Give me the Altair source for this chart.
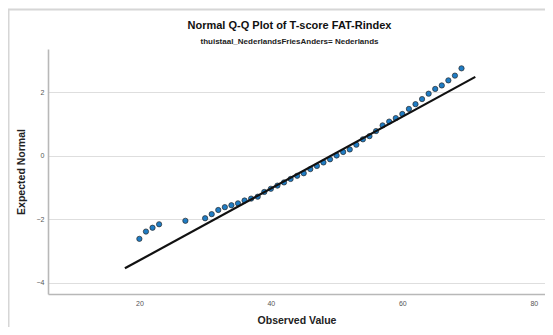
import altair as alt
import pandas as pd

observed = [20, 21, 22, 23, 27, 30, 31, 32, 33, 34, 35, 36, 37, 38, 39,
            40, 41, 42, 43, 44, 45, 46, 47, 48, 49, 50, 51, 52, 53, 54,
            55, 56, 57, 58, 59, 60, 61, 62, 63, 64, 65, 66, 67, 68, 69]
expected = [-2.62, -2.39, -2.27, -2.16, -2.05, -1.97, -1.84, -1.71, -1.62, -1.56,
            -1.50, -1.41, -1.35, -1.29, -1.14, -1.04, -0.94, -0.84, -0.73, -0.63,
            -0.55, -0.42, -0.32, -0.21, -0.11, 0.01, 0.12, 0.20, 0.35, 0.52,
            0.62, 0.78, 0.96, 1.08, 1.19, 1.32, 1.48, 1.63, 1.79, 1.96,
            2.11, 2.22, 2.38, 2.53, 2.76]

# Reference line end points
line_x = [17.8, 71.1]
line_y = [-3.55, 2.49]

x_ticks = [20, 40, 60, 80]
y_ticks = [-4, -2, 0, 2]

pts = pd.DataFrame({"Observed Value": observed, "Expected Normal": expected})
ln = pd.DataFrame({"Observed Value": line_x, "Expected Normal": line_y})

FONT = "Liberation Sans"

x_enc = alt.X("Observed Value:Q",
              scale=alt.Scale(domain=[6.1, 81.7], nice=False, zero=False),
              axis=alt.Axis(values=x_ticks, grid=False, ticks=False,
                            domainColor="#b8b8b8", domainWidth=1.6,
                            labelFont=FONT, labelFontSize=7, labelColor="#555555",
                            labelPadding=5, title="Observed Value",
                            titleFont=FONT, titleFontSize=10.5, titleFontWeight="bold",
                            titleColor="#222222", titlePadding=9))
y_enc = alt.Y("Expected Normal:Q",
              scale=alt.Scale(domain=[-4.36, 3.37], nice=False, zero=False),
              axis=alt.Axis(values=y_ticks, grid=True, gridColor="#dedede", gridWidth=1.2,
                            ticks=False, domainColor="#b8b8b8", domainWidth=1.6,
                            labelFont=FONT, labelFontSize=7, labelColor="#555555",
                            labelPadding=4, title="Expected Normal",
                            titleFont=FONT, titleFontSize=10.5, titleFontWeight="bold",
                            titleColor="#222222", titlePadding=10))

frame = alt.Chart(alt.Data(values=[{"a": 1}])).mark_rect(
    fillOpacity=0, stroke="#d6d6d6", strokeWidth=2
).encode(x=alt.value(-39.5), x2=alt.value(700), y=alt.value(-39.5), y2=alt.value(500))

points = alt.Chart(pts).mark_point(
    filled=True, fill="#1f7cc4", stroke="#2a2a2a", strokeWidth=0.7, opacity=1, size=28
).encode(x=x_enc, y=y_enc)

line = alt.Chart(ln).mark_line(color="#111111", strokeWidth=2.2).encode(x=x_enc, y=y_enc)

chart = alt.layer(frame, points, line).properties(
    width=497,
    height=245,
    autosize=alt.AutoSizeParams(type="none"),
    padding={"left": 40, "top": 41, "right": 0, "bottom": 33},
    title=alt.TitleParams(
        text="Normal Q-Q Plot of T-score FAT-Rindex",
        subtitle="thuistaal_NederlandsFriesAnders= Nederlands",
        font=FONT, fontSize=11, fontWeight="bold", color="#111111",
        subtitleFont=FONT, subtitleFontSize=8, subtitleFontWeight="bold",
        subtitleColor="#222222", subtitlePadding=7,
        anchor="middle", frame="group", dx=-7, offset=-37.5,
    ),
).configure_view(stroke=None)

chart.save("out.html", embed_options={"renderer": "svg", "actions": False})
